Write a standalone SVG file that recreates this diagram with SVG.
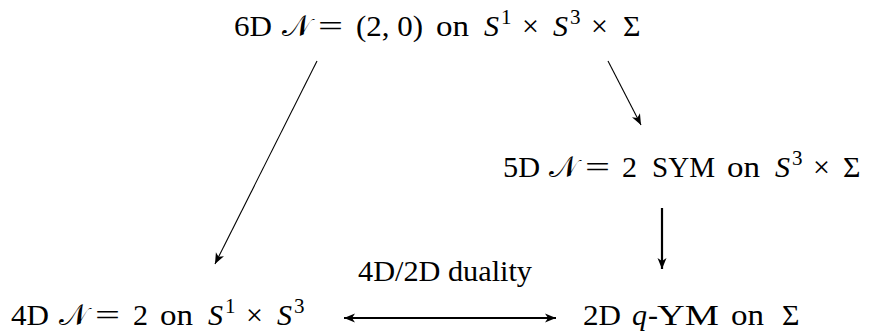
<svg xmlns="http://www.w3.org/2000/svg" width="873" height="331" viewBox="0 0 873 331">
<style>
  text { font-family: "Liberation Serif", "DejaVu Serif", serif; font-size: 30px; fill: #000; }
  .it { font-style: italic; }
  .cal { font-family: "DejaVu Sans", "Noto Sans", "Liberation Serif", serif; font-style: normal; }
  .sup { font-size: 21px; }
  .thin { stroke: #000; stroke-width: 1.1; fill: none; }
  .thick { stroke: #000; stroke-width: 2.2; fill: none; }
</style>
<defs>
  <marker id="ah" markerWidth="14" markerHeight="10" refX="0" refY="0" viewBox="-12 -5 14 10" orient="auto" markerUnits="userSpaceOnUse">
    <path d="M0,0 L-11,-4.5 L-8,0 L-11,4.5 Z" fill="#000"/>
  </marker>
  <marker id="ahs" markerWidth="14" markerHeight="10" refX="0" refY="0" viewBox="-12 -5 14 10" orient="auto-start-reverse" markerUnits="userSpaceOnUse">
    <path d="M0,0 L-11,-4.5 L-8,0 L-11,4.5 Z" fill="#000"/>
  </marker>
</defs>
<g id="n6d">
  <text y="36"><tspan x="234" textLength="38" lengthAdjust="spacingAndGlyphs">6D</tspan><tspan class="cal" x="282">𝒩</tspan><tspan x="318" textLength="25" lengthAdjust="spacingAndGlyphs">=</tspan><tspan x="356" textLength="67" lengthAdjust="spacingAndGlyphs">(2, 0)</tspan><tspan x="436" textLength="33" lengthAdjust="spacingAndGlyphs">on</tspan><tspan class="it" x="484">S</tspan><tspan class="sup" x="501" y="24">1</tspan><tspan x="522" y="36">×</tspan><tspan class="it" x="553">S</tspan><tspan class="sup" x="570" y="24">3</tspan><tspan x="591" y="36">×</tspan><tspan x="623">Σ</tspan></text>
</g>
<g id="n5d">
  <text y="177"><tspan x="503" textLength="37" lengthAdjust="spacingAndGlyphs">5D</tspan><tspan class="cal" x="549">𝒩</tspan><tspan x="585" textLength="25" lengthAdjust="spacingAndGlyphs">=</tspan><tspan x="622" textLength="15" lengthAdjust="spacingAndGlyphs">2</tspan><tspan x="652" textLength="63" lengthAdjust="spacingAndGlyphs">SYM</tspan><tspan x="727" textLength="33" lengthAdjust="spacingAndGlyphs">on</tspan><tspan class="it" x="775">S</tspan><tspan class="sup" x="792" y="165">3</tspan><tspan x="813" y="177">×</tspan><tspan x="843">Σ</tspan></text>
</g>
<g id="n4d">
  <text y="325"><tspan x="11" textLength="38" lengthAdjust="spacingAndGlyphs">4D</tspan><tspan class="cal" x="59">𝒩</tspan><tspan x="95" textLength="25" lengthAdjust="spacingAndGlyphs">=</tspan><tspan x="133" textLength="15" lengthAdjust="spacingAndGlyphs">2</tspan><tspan x="160" textLength="33" lengthAdjust="spacingAndGlyphs">on</tspan><tspan class="it" x="208">S</tspan><tspan class="sup" x="225" y="313">1</tspan><tspan x="246" y="325">×</tspan><tspan class="it" x="277">S</tspan><tspan class="sup" x="294" y="313">3</tspan></text>
</g>
<g id="n2d">
  <text y="325"><tspan x="583" textLength="38" lengthAdjust="spacingAndGlyphs">2D</tspan><tspan class="it" x="632">q</tspan><tspan x="648">-</tspan><tspan x="657" textLength="62" lengthAdjust="spacingAndGlyphs">YM</tspan><tspan x="731" textLength="33" lengthAdjust="spacingAndGlyphs">on</tspan><tspan x="782">Σ</tspan></text>
</g>
<g id="connectors">
  <line class="thin" x1="317" y1="61" x2="215" y2="264" marker-end="url(#ah)"/>
  <line class="thin" x1="608" y1="61" x2="641" y2="125" marker-end="url(#ah)"/>
  <line class="thick" x1="662" y1="208" x2="662" y2="269" marker-end="url(#ah)"/>
  <line class="thick" x1="344" y1="318" x2="556" y2="318" marker-start="url(#ahs)" marker-end="url(#ahs)"/>
  <text x="358" y="281" textLength="174" lengthAdjust="spacingAndGlyphs">4D/2D duality</text>
</g>
</svg>
